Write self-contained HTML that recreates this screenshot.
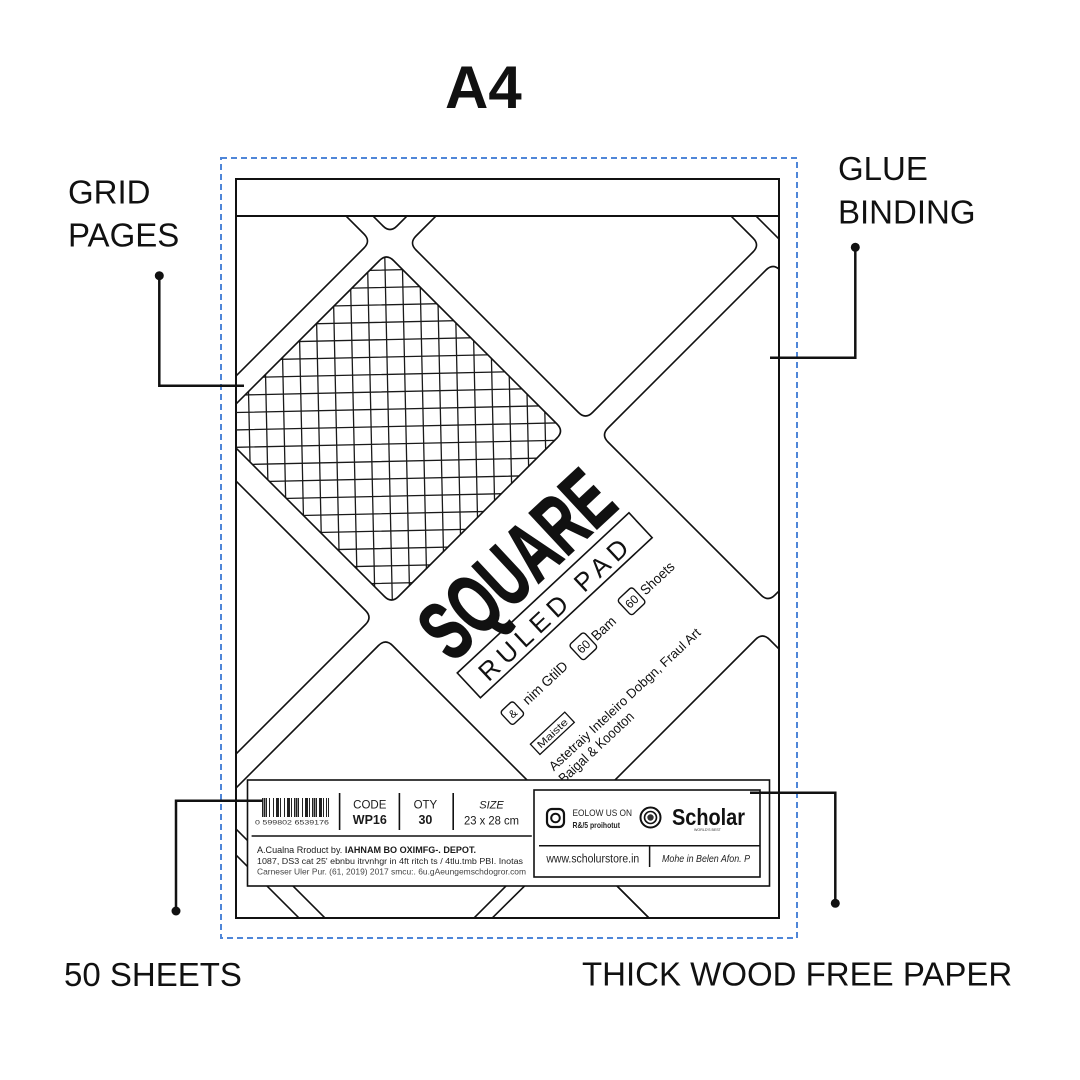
<!DOCTYPE html>
<html><head><meta charset="utf-8"><style>
html,body{margin:0;padding:0;background:#fff;width:1080px;height:1080px;overflow:hidden;}
svg{display:block;overflow:hidden;}
text{font-family:"Liberation Sans",Arial,sans-serif;}
</style></head><body>
<svg width="1080" height="1080" viewBox="0 0 1080 1080" xmlns="http://www.w3.org/2000/svg">
<defs>
<clipPath id="pad"><rect x="236" y="216" width="543" height="702"/></clipPath>
<clipPath id="gridclip"><path d="M393.5 260.5 L557 424 Q564 431 557 438 L398.5 596.5 Q391.5 603.5 384.5 596.5 L221 433 Q214 426 221 419 L379.5 260.5 Q386.5 253.5 393.5 260.5 Z"/></clipPath>
</defs>
<rect width="1080" height="1080" fill="#fff"/>

<!-- Title -->
<text x="445" y="108" font-size="60" font-weight="bold" fill="#111">A4</text>

<!-- dashed outline -->
<rect x="221" y="158" width="576" height="780" fill="none" stroke="#4f86d8" stroke-width="2" stroke-dasharray="6 4"/>

<!-- pad -->
<rect x="236" y="179" width="543" height="739" fill="#fff" stroke="#111" stroke-width="2"/>
<line x1="236" y1="216" x2="779" y2="216" stroke="#111" stroke-width="2"/>

<g clip-path="url(#pad)">
  <!-- grid lines -->
  <g clip-path="url(#gridclip)">
    <g transform="rotate(-1.25 397 417)" stroke="#1a1a1a" stroke-width="1.3" fill="none">
      <path d="M214.3 240V620 M231.7 240V620 M249.1 240V620 M266.5 240V620 M283.9 240V620 M301.3 240V620 M318.7 240V620 M336.1 240V620 M353.5 240V620 M370.9 240V620 M388.3 240V620 M405.7 240V620 M423.1 240V620 M440.5 240V620 M457.9 240V620 M475.3 240V620 M492.7 240V620 M510.1 240V620 M527.5 240V620 M544.9 240V620 M562.3 240V620"/>
      <path d="M220 252.4H580 M220 269.8H580 M220 287.2H580 M220 304.6H580 M220 322H580 M220 339.4H580 M220 356.8H580 M220 374.2H580 M220 391.6H580 M220 409H580 M220 426.4H580 M220 443.8H580 M220 461.2H580 M220 478.6H580 M220 496H580 M220 513.4H580 M220 530.8H580 M220 548.2H580 M220 565.6H580 M220 583H580 M220 600.4H580"/>
    </g>
  </g>
  <g fill="none" stroke="#111" stroke-width="1.6" stroke-linejoin="round">
    <!-- A1 visible edges -->
    <path d="M340 210 L364 234 Q371 241 364 248 L230 382"/>
    <!-- A2 tip -->
    <path d="M367 210 L383 226 Q390 233 397 226 L413 210"/>
    <!-- B1 grid diamond -->
    <path d="M393.5 260.5 L557 424 Q564 431 557 438 L398.5 596.5 Q391.5 603.5 384.5 596.5 L221 433 Q214 426 221 419 L379.5 260.5 Q386.5 253.5 393.5 260.5 Z"/>
    <!-- B2 -->
    <path d="M590.5 75.5 L753 238 Q760 245 753 252 L592.5 412.5 Q585.5 419.5 578.5 412.5 L416 250 Q409 243 416 236 L576.5 75.5 Q583.5 68.5 590.5 75.5 Z"/>
    <!-- B3 edge -->
    <path d="M750 210 L785 245"/>
    <!-- B0 visible edges -->
    <path d="M230 475 L365.5 610.5 Q372.5 617.5 365.5 624.5 L230 760"/>
    <!-- C0 -->
    <path d="M392.5 645.5 L562.5 815.5 Q569.5 822.5 562.5 829.5 L406.5 985.5 Q399.5 992.5 392.5 985.5 L222.5 815.5 Q215.5 808.5 222.5 801.5 L378.5 645.5 Q385.5 638.5 392.5 645.5 Z"/>
    <!-- C2 -->
    <path d="M780 270 L933 423 Q940 430 933 437 L775 595 Q768 602 761 595 L608 442 Q601 435 608 428 L766 270 Q773 263 780 270 Z"/>
    <!-- D1 visible edges -->
    <path d="M790 660 L769.5 639.5 Q762.5 632.5 755.5 639.5 L570 825 Q563 832 570 839 L670 939"/>
    <!-- D0 visible edges -->
    <path d="M470 940 L564 847 Q571 840 578 847 L670 939"/>
    <line x1="220" y1="839" x2="310" y2="929"/>
  </g>
</g>

<!-- SQUARE RULED PAD rotated -->
<g transform="translate(554.7 605.3) rotate(-43)" fill="#111">
  <text x="-115" y="-27" font-size="84" font-weight="bold" textLength="230" lengthAdjust="spacingAndGlyphs" stroke="#111" stroke-width="1.5">SQUARE</text>
  <rect x="-117.4" y="-17" width="234.8" height="34" fill="none" stroke="#111" stroke-width="1.6"/>
  <text x="-101" y="11.3" font-size="26" textLength="194" lengthAdjust="spacing">RULED PAD</text>
  <rect x="-113" y="41" width="17" height="18" rx="3" fill="none" stroke="#111" stroke-width="1.4"/>
  <text x="-104.5" y="54.5" font-size="11" text-anchor="middle">&amp;</text>
  <text x="-88" y="55" font-size="14" textLength="56" lengthAdjust="spacingAndGlyphs">nim GtilD</text>
  <rect x="-17" y="39" width="20" height="21" rx="3" fill="none" stroke="#111" stroke-width="1.4"/>
  <text x="-7" y="54" font-size="12" text-anchor="middle">60</text>
  <text x="6" y="55" font-size="14" textLength="28" lengthAdjust="spacingAndGlyphs">Bam</text>
  <rect x="49" y="39" width="20" height="21" rx="3" fill="none" stroke="#111" stroke-width="1.4"/>
  <text x="59" y="54" font-size="12" text-anchor="middle">60</text>
  <text x="73" y="55" font-size="14" textLength="41" lengthAdjust="spacingAndGlyphs">Shoets</text>
  <rect x="-112.5" y="85" width="47" height="14" fill="none" stroke="#111" stroke-width="1.3"/>
  <text x="-89" y="95.5" font-size="10" text-anchor="middle" textLength="38" lengthAdjust="spacingAndGlyphs">Maiste</text>
  <text x="-114" y="121" font-size="13" textLength="202" lengthAdjust="spacingAndGlyphs">Astetraiy Inteleiro Dobgn, Fraul Art</text>
  <text x="-115" y="137" font-size="14" textLength="97" lengthAdjust="spacingAndGlyphs">Baigal &amp; Koooton</text>
</g>

<!-- label box -->
<rect x="247.5" y="780" width="522" height="106" fill="#fff" stroke="#111" stroke-width="1.6"/>
<g stroke="#111" stroke-width="1.6">
  <line x1="339.6" y1="793" x2="339.6" y2="830"/>
  <line x1="399.4" y1="793" x2="399.4" y2="830"/>
  <line x1="453.2" y1="793" x2="453.2" y2="830"/>
  <line x1="251.6" y1="836" x2="531.8" y2="836"/>
</g>
<!-- barcode -->
<g stroke="#222">
  <path stroke-width="1" d="M262.5 798V817 M266.5 798V817 M269.5 798V817 M273.5 798V817 M276.5 798V817 M280.5 798V817 M284.5 798V817 M287.5 798V817 M291.5 798V817 M294.5 798V817 M298.5 798V817 M302.5 798V817 M305.5 798V817 M309.5 798V817 M312.5 798V817 M316.5 798V817 M319.5 798V817 M323.5 798V817 M326.5 798V817 M328.5 798V817"/>
  <path stroke-width="2" d="M264.5 798V817 M278 798V817 M289 798V817 M296.5 798V817 M307 798V817 M314.5 798V817 M321 798V817"/>
</g>
<text x="255" y="824.5" font-size="6.5" fill="#333" textLength="74" lengthAdjust="spacingAndGlyphs">0 599802 6539176</text>
<g fill="#1a1a1a" text-anchor="middle">
  <text x="369.8" y="808.5" font-size="11.5">CODE</text>
  <text x="369.8" y="824" font-size="12.5" font-weight="bold">WP16</text>
  <text x="425.4" y="808.5" font-size="11.5">OTY</text>
  <text x="425.4" y="824" font-size="12.5" font-weight="bold">30</text>
  <text x="491.5" y="808.5" font-size="11" font-style="italic">SIZE</text>
  <text x="491.5" y="824.5" font-size="12" textLength="55" lengthAdjust="spacingAndGlyphs">23 x 28 cm</text>
</g>
<text x="257" y="853" font-size="9.5" fill="#1a1a1a" textLength="219" lengthAdjust="spacingAndGlyphs">A.Cualna Rroduct by. <tspan font-weight="bold">IAHNAM BO OXIMFG-. DEPOT.</tspan></text>
<text x="257" y="864" font-size="8" fill="#222" textLength="266" lengthAdjust="spacingAndGlyphs">1087, DS3 cat 25' ebnbu itrvnhgr in 4ft ritch ts / 4tlu.tmb  PBI. Inotas</text>
<text x="257" y="874.5" font-size="8.3" fill="#444" textLength="269" lengthAdjust="spacingAndGlyphs">Carneser Uler Pur. (61, 2019) 2017 smcu:. 6u.gAeungemschdogror.com</text>

<!-- right inner box -->
<rect x="534" y="790" width="226" height="87" fill="none" stroke="#111" stroke-width="1.6"/>
<line x1="539" y1="845.7" x2="760" y2="845.7" stroke="#111" stroke-width="1.5"/>
<line x1="649.6" y1="846" x2="649.6" y2="867" stroke="#111" stroke-width="1.5"/>
<rect x="547" y="809" width="17" height="18" rx="5" fill="none" stroke="#111" stroke-width="2.2"/>
<circle cx="555.5" cy="818" r="4.3" fill="none" stroke="#111" stroke-width="2"/>
<text x="572.5" y="816" font-size="9.5" fill="#222" textLength="59.5" lengthAdjust="spacingAndGlyphs">EOLOW US ON</text>
<text x="572.5" y="828" font-size="8.5" fill="#222" font-weight="bold" textLength="47.5" lengthAdjust="spacingAndGlyphs">R&amp;/5 proihotut</text>
<circle cx="650.5" cy="817.5" r="10" fill="none" stroke="#111" stroke-width="2"/>
<circle cx="650.5" cy="817.5" r="6" fill="none" stroke="#111" stroke-width="1.6"/>
<circle cx="650.5" cy="817.5" r="3.2" fill="#333"/>
<text x="672" y="825" font-size="23" font-weight="bold" fill="#111" textLength="73" lengthAdjust="spacingAndGlyphs">Scholar</text>
<text x="694" y="831" font-size="3.5" fill="#333" textLength="27" lengthAdjust="spacingAndGlyphs">WORLD'S BEST</text>
<text x="546.4" y="862.5" font-size="11.5" fill="#222" textLength="92.8" lengthAdjust="spacingAndGlyphs">www.scholurstore.in</text>
<text x="662" y="862" font-size="10" fill="#222" font-style="italic" font-family="Liberation Serif, serif" textLength="88" lengthAdjust="spacingAndGlyphs">Mohe in Belen Afon. P</text>

<!-- side labels -->
<g font-size="33" fill="#111">
  <text x="68" y="203.3">GRID</text>
  <text x="68" y="246.7">PAGES</text>
  <text x="838" y="180">GLUE</text>
  <text x="838" y="223.3">BINDING</text>
  <text x="64" y="986">50 SHEETS</text>
  <text x="582" y="985.7">THICK WOOD FREE PAPER</text>
</g>

<!-- leaders -->
<g fill="none" stroke="#111" stroke-width="2.5">
  <polyline points="159.3,275.7 159.3,385.7 244,385.7"/>
  <polyline points="855.3,247.3 855.3,357.7 770,357.7"/>
  <polyline points="176,911 176,800.7 262.7,800.7"/>
  <polyline points="835.3,903.3 835.3,792.7 750,792.7"/>
</g>
<g fill="#111">
  <circle cx="159.3" cy="275.7" r="4.5"/>
  <circle cx="855.3" cy="247.3" r="4.5"/>
  <circle cx="176" cy="911" r="4.5"/>
  <circle cx="835.3" cy="903.3" r="4.5"/>
</g>
</svg>
</body></html>
